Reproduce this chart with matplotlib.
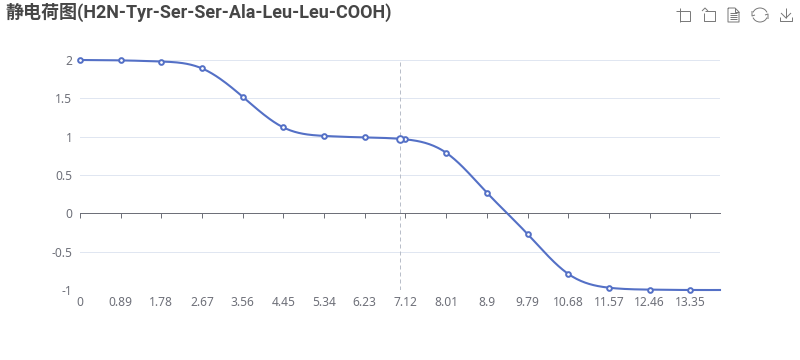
import numpy as np
import matplotlib
matplotlib.use('Agg')
import matplotlib.pyplot as plt
from matplotlib.patches import Arc

plt.rcParams['font.family'] = ['Noto Sans', 'Noto Sans CJK SC', 'DejaVu Sans']

# Data
ph_labels = ['0', '0.89', '1.78', '2.67', '3.56', '4.45', '5.34', '6.23', '7.12',
             '8.01', '8.9', '9.79', '10.68', '11.57', '12.46', '13.35']
ph_values = [0, 0.89, 1.78, 2.67, 3.56, 4.45, 5.34, 6.23, 7.12,
             8.01, 8.9, 9.79, 10.68, 11.57, 12.46, 13.35]
charge = [2.0, 1.995, 1.98, 1.89, 1.52, 1.12, 1.01, 0.99, 0.965,
          0.79, 0.27, -0.27, -0.79, -0.97, -0.995, -1.0]
end_ph = 14
end_charge = -1.0
hover_ph = 7.0
hover_charge = 0.97
y_ticks = [-1, -0.5, 0, 0.5, 1, 1.5, 2]
y_labels = ['-1', '-0.5', '0', '0.5', '1', '1.5', '2']
title = '静电荷图(H2N-Tyr-Ser-Ser-Ala-Leu-Leu-COOH)'

line_color = '#5470c6'
grid_color = '#E0E6F1'
axis_color = '#6E7079'
pointer_color = '#B9BEC9'
icon_color = '#777777'
W, H = 800, 360


def smooth(x, y, n=30):
    # natural cubic spline, only to draw the rounded line
    x = np.array(x, dtype=float)
    y = np.array(y, dtype=float)
    k = len(x)
    h = np.diff(x)
    A = np.zeros((k, k))
    b = np.zeros(k)
    A[0, 0] = A[-1, -1] = 1
    for i in range(1, k - 1):
        A[i, i - 1] = h[i - 1]
        A[i, i] = 2 * (h[i - 1] + h[i])
        A[i, i + 1] = h[i]
        b[i] = 6 * ((y[i + 1] - y[i]) / h[i] - (y[i] - y[i - 1]) / h[i - 1])
    c = np.linalg.solve(A, b)
    xs, ys = [], []
    for i in range(k - 1):
        t = np.linspace(0, 1, n)
        u = 1 - t
        xs.append(x[i] + t * h[i])
        ys.append(u * y[i] + t * y[i + 1]
                  + ((u**3 - u) * c[i] + (t**3 - t) * c[i + 1]) * h[i]**2 / 6)
    return np.concatenate(xs), np.concatenate(ys)


fig = plt.figure(figsize=(W / 100, H / 100), dpi=100)
ax = fig.add_axes([80 / W, 1 - 290 / H, 640 / W, 230 / H])
ax.set_xlim(0, end_ph)
ax.set_ylim(-1, 2)
ax.patch.set_alpha(0)

for s in ['top', 'left', 'right']:
    ax.spines[s].set_visible(False)
ax.spines['bottom'].set_position(('data', 0))
ax.spines['bottom'].set_color(axis_color)
ax.spines['bottom'].set_linewidth(0.72)

for v in y_ticks:
    if v != 0:
        ax.axhline(v, color=grid_color, lw=0.72, zorder=1)

ax.set_yticks(y_ticks)
ax.set_yticklabels(y_labels, fontsize=8.64, color=axis_color)
ax.tick_params(axis='y', length=0, pad=5.5)
ax.set_xticks(ph_values)
ax.set_xticklabels(ph_labels, fontsize=8.64, color=axis_color)
ax.tick_params(axis='x', length=3.6, width=0.72, color=axis_color, direction='out', pad=56)

ax.axvline(hover_ph, color=pointer_color, lw=0.72, ls=(0, (4, 3)), zorder=2)

sx, sy = smooth(ph_values + [end_ph], charge + [end_charge])
ax.plot(sx, sy, color=line_color, lw=1.5, zorder=3, clip_on=False)
ax.plot(ph_values, charge, ls='none', marker='o', ms=3.4, mfc='white', mec=line_color,
        mew=1.4, zorder=4, clip_on=False)
ax.plot([hover_ph], [hover_charge], ls='none', marker='o', ms=4.8, mfc='white', mec=line_color,
        mew=1.4, zorder=5, clip_on=False)

fig.text(5 / W, 1 - 12 / H, title, fontsize=13, fontweight='bold', color='#464646',
         va='center', ha='left', family=['Roboto', 'Noto Sans CJK SC', 'DejaVu Sans'])

# toolbox icons, in pixel coordinates
tb = fig.add_axes([0, 0, 1, 1])
tb.set_xlim(0, W)
tb.set_ylim(H, 0)
tb.axis('off')
tb.patch.set_alpha(0)
lw = 0.7


def seg(xs, ys):
    tb.plot(xs, ys, color=icon_color, lw=lw, solid_capstyle='butt')


# crop
seg([676, 690], [11, 11])
seg([680, 680], [8, 22])
seg([680, 690, 690], [21, 21, 11])
# undo crop
seg([702, 705, 708], [11, 8, 11])
seg([705, 715, 715, 704, 704], [11, 11, 21, 21, 13])
# data view
seg([728, 735, 739, 739, 728, 728], [8, 8, 12, 22, 22, 8])
seg([735, 735, 739], [8, 12, 12])
for yy in [12.5, 15, 17, 19]:
    seg([730, 737], [yy, yy])
# restore
tb.add_patch(Arc((760, 15), 15, 14, theta1=200, theta2=340, color=icon_color, lw=lw))
tb.add_patch(Arc((760, 15), 15, 14, theta1=20, theta2=160, color=icon_color, lw=lw))
seg([752, 752, 755], [11, 16, 15])
seg([768, 768, 765], [19, 14, 15])
# save
seg([786, 786], [8, 18])
seg([781, 786, 791], [13, 18, 13])
seg([780, 780, 792, 792], [17, 21, 21, 17])

fig.savefig('out.png', dpi=100)
